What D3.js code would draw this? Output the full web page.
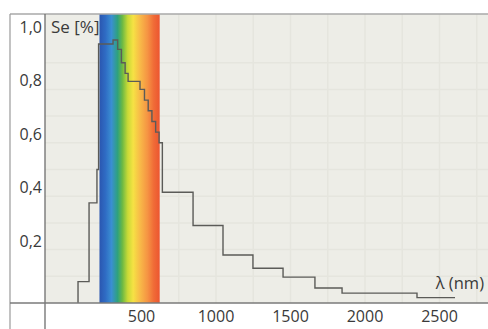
<!DOCTYPE html>
<html>
<head>
<meta charset="utf-8">
<script src="https://cdn.jsdelivr.net/npm/d3@7"></script>
<style>
  html, body { margin: 0; padding: 0; background: #ffffff; }
  svg { display: block; }
  text { font-family: "Open Sans", "DejaVu Sans", sans-serif; fill: #3a3a3a; }
</style>
</head>
<body>
<svg id="chart" width="488" height="329"></svg>
<script>
// Spectral response staircase: [wavelength in nm, relative response]
const responseSteps = [
  [74, 0], [74, 0.08], [148, 0.375], [201, 0.5], [212, 0.97],
  [309, 0.985], [340, 0.95], [365, 0.9], [390, 0.86], [410, 0.83],
  [490, 0.8], [520, 0.76], [545, 0.72], [570, 0.68], [595, 0.64],
  [618, 0.6], [640, 0.415], [846, 0.29], [1047, 0.18], [1248, 0.13],
  [1450, 0.097], [1664, 0.056], [1846, 0.037], [2349, 0.02], [2604, 0.02]
];
// Visible light band (nm)
const visibleBand = [218, 622];
const xTickValues = [500, 1000, 1500, 2000, 2500];
const yTickValues = [0.2, 0.4, 0.6, 0.8, 1.0];
const yTickLabels = ["0,2", "0,4", "0,6", "0,8", "1,0"];
const xGridValues = [250, 500, 750, 1000, 1250, 1500, 1750, 2000, 2250, 2500, 2750];
const yGridValues = [0.1, 0.2, 0.3, 0.4, 0.5, 0.6, 0.7, 0.8, 0.9];
const spectrumColors = [
  [0, "#2a56b0"], [0.1, "#2f6cc4"], [0.2, "#3a8fd2"], [0.3, "#2ea17e"],
  [0.38, "#6cb944"], [0.47, "#c9da36"], [0.56, "#f6e244"], [0.68, "#f8b848"],
  [0.8, "#f59343"], [0.9, "#f06c37"], [1, "#ec5530"]
];

const svg = d3.select("#chart");
const plot = { left: 45, right: 488, top: 14, bottom: 303 };
const fontSize = 16;

const x = d3.scaleLinear().domain([500, 2500]).range([141.5, 439.5]);
const y = d3.scaleLinear().domain([0, 1]).range([303, 36]);

// plot background
svg.append("rect")
  .attr("x", plot.left).attr("y", plot.top)
  .attr("width", plot.right - plot.left).attr("height", plot.bottom - plot.top)
  .attr("fill", "#ededE7");

// faint grid
const grid = svg.append("g").attr("stroke", "#e5e5de").attr("stroke-width", 1.5);
grid.selectAll("line.v").data(xGridValues).join("line").attr("class", "v")
  .attr("x1", d => x(d)).attr("x2", d => x(d))
  .attr("y1", plot.top).attr("y2", plot.bottom);
grid.selectAll("line.h").data(yGridValues).join("line").attr("class", "h")
  .attr("y1", d => y(d)).attr("y2", d => y(d))
  .attr("x1", plot.left).attr("x2", plot.right);

// axis title on the y side (partly under the spectrum band)
svg.append("text")
  .attr("x", 51).attr("y", 33)
  .attr("font-size", fontSize + 1)
  .text("Se [%]");

// spectrum band
const grad = svg.append("defs").append("linearGradient")
  .attr("id", "spectrum").attr("x1", "0").attr("x2", "1").attr("y1", "0").attr("y2", "0");
grad.selectAll("stop").data(spectrumColors).join("stop")
  .attr("offset", d => d[0]).attr("stop-color", d => d[1]);
svg.append("rect")
  .attr("x", x(visibleBand[0])).attr("y", plot.top)
  .attr("width", x(visibleBand[1]) - x(visibleBand[0]))
  .attr("height", plot.bottom - plot.top)
  .attr("fill", "url(#spectrum)");

// response curve
const line = d3.line().x(d => x(d[0])).y(d => y(d[1])).curve(d3.curveStepAfter);
svg.append("path")
  .datum(responseSteps)
  .attr("d", line)
  .attr("fill", "none")
  .attr("stroke", "#5b5b58")
  .attr("stroke-width", 1.4);

// frame lines
svg.append("line").attr("x1", 10).attr("x2", 488).attr("y1", plot.top).attr("y2", plot.top)
  .attr("stroke", "#a8a8a8").attr("stroke-width", 1.5);
svg.append("line").attr("x1", 10).attr("x2", 10).attr("y1", plot.top).attr("y2", 329)
  .attr("stroke", "#9a9a9a").attr("stroke-width", 1.2);
svg.append("line").attr("x1", plot.left).attr("x2", plot.left).attr("y1", plot.top).attr("y2", 329)
  .attr("stroke", "#6e6e6e").attr("stroke-width", 1.3);
svg.append("line").attr("x1", 10).attr("x2", 488).attr("y1", plot.bottom).attr("y2", plot.bottom)
  .attr("stroke", "#7a7a7a").attr("stroke-width", 1.3);

// y tick labels
svg.append("g").selectAll("text").data(yTickValues).join("text")
  .attr("x", 42).attr("y", d => y(d) - 3)
  .attr("text-anchor", "end")
  .attr("font-size", fontSize)
  .text((d, i) => yTickLabels[i]);

// x tick labels
svg.append("g").selectAll("text").data(xTickValues).join("text")
  .attr("x", d => x(d)).attr("y", 322)
  .attr("text-anchor", "middle")
  .attr("font-size", fontSize)
  .text(d => d);

// x axis title
svg.append("text")
  .attr("x", 484).attr("y", 289)
  .attr("text-anchor", "end")
  .attr("font-size", fontSize + 0.5)
  .text("λ (nm)");
</script>
</body>
</html>
